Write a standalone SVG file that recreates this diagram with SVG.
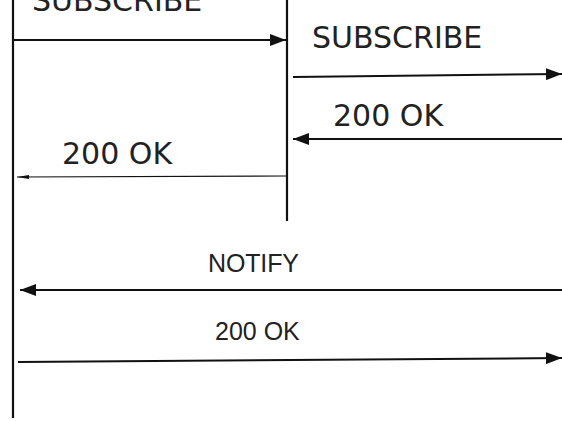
<svg xmlns="http://www.w3.org/2000/svg" width="562" height="421" viewBox="0 0 562 421">
<style>
.life{stroke:#111;stroke-width:2.2;fill:none}
.msg{stroke:#111;stroke-width:2;fill:none}
.thin{stroke:#111;stroke-width:1.2;fill:none}
.big{font-family:"DejaVu Sans",Verdana,sans-serif;font-size:30px;fill:#222}
.small{font-family:"Liberation Sans",Arial,sans-serif;font-size:25px;fill:#222}
</style>
<defs>
<marker id="ah" markerWidth="16" markerHeight="12" refX="16" refY="6" orient="auto" markerUnits="userSpaceOnUse">
<path d="M0,0 L16,6 L0,12 Z" fill="#111"/>
</marker>
<marker id="ahs" markerWidth="12" markerHeight="6" refX="12" refY="3" orient="auto" markerUnits="userSpaceOnUse">
<path d="M0,1 L12,3 L0,5 Z" fill="#111"/>
</marker>
</defs>
<g id="lifelines">
<line id="left-lifeline" class="life" x1="13" y1="0" x2="13" y2="418"/>
<line id="middle-lifeline" class="life" x1="287" y1="0" x2="287" y2="221"/>
</g>
<g id="connectors">
<line class="msg" x1="13" y1="40" x2="286" y2="40" marker-end="url(#ah)"/>
<line class="msg" x1="293" y1="77" x2="562" y2="74" marker-end="url(#ah)"/>
<line class="msg" x1="562" y1="139" x2="293" y2="139" marker-end="url(#ah)"/>
<line class="thin" x1="286" y1="176" x2="17" y2="177" marker-end="url(#ahs)"/>
<line class="msg" x1="562" y1="290" x2="20" y2="290" marker-end="url(#ah)"/>
<line class="msg" x1="18" y1="362" x2="562" y2="358" marker-end="url(#ah)"/>
</g>
<g id="labels">
<text class="big" x="32" y="11">SUBSCRIBE</text>
<text class="big" x="312" y="48">SUBSCRIBE</text>
<text class="big" x="333" y="126">200 OK</text>
<text class="big" x="62" y="164">200 OK</text>
<text class="small" x="208" y="272" textLength="91">NOTIFY</text>
<text class="small" x="215" y="340">200 OK</text>
</g>
</svg>
